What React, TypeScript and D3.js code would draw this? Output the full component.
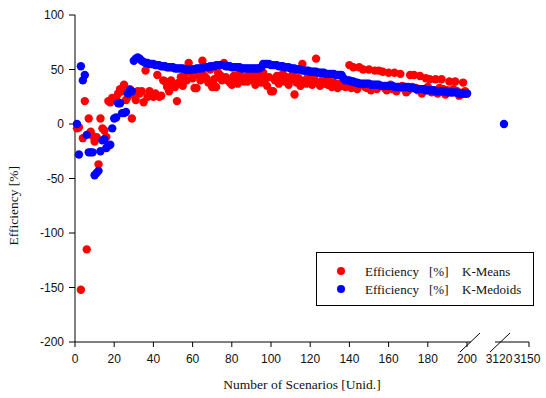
import React from 'react';
import * as d3 from 'd3';

// scenario counts 1..200 plus the lone 3120 run
const scenarios: number[] = d3.range(1, 201);

const kMeans: number[] = [
  -4, -3, -152, -13, 21, -115, 5, -7, -11, -16,
  -12, -37, 5, -4, -6, -12, 21, 20, 24, 22,
  24, 28, 32, 30, 36, 22, 25, 32, 5, 27,
  22, 30, 28, 30, 20, 49, 25, 30, 27, 25,
  28, 45, 25, 26, 40, 39, 34, 30, 40, 37,
  34, 21, 38, 43, 35, 45, 40, 56, 48, 42,
  33, 33, 45, 40, 58, 44, 42, 38, 50, 34,
  41, 34, 47, 45, 40, 56, 43, 40, 38, 36,
  44, 41, 37, 46, 42, 39, 43, 39, 48, 44,
  40, 36, 45, 42, 38, 47, 41, 35, 43, 30,
  30, 40, 44, 37, 42, 46, 39, 43, 36, 41,
  45, 27, 38, 42, 35, 55, 40, 37, 44, 39,
  36, 41, 60, 38, 35, 40, 37, 42, 36, 39,
  34, 38, 36, 33, 37, 35, 39, 34, 36, 54,
  33, 52, 35, 32, 52, 36, 50, 34, 33, 50,
  31, 34, 49, 32, 49, 35, 48, 33, 31, 47,
  36, 32, 47, 30, 33, 46, 35, 32, 29, 31,
  45, 34, 45, 33, 31, 44, 28, 32, 42, 34,
  41, 29, 31, 41, 28, 33, 41, 32, 27, 31,
  39, 29, 32, 39, 30, 26, 27, 38, 30, 28,
];

const kMedoids: number[] = [
  0, -28, 53, 40, 45, -10, -26, -26, -26, -47,
  -45, -43, -25, -15, -14, -22, -20, -19, -4, 5,
  6, 19, 19, 10, 10, 11, 28, 31, 30, 58,
  60, 61, 60, 58, 57, 56, 56, 55, 55, 55,
  54, 54, 54, 53, 53, 53, 52, 52, 52, 52,
  51, 51, 51, 51, 51, 50, 50, 50, 50, 50,
  50, 51, 51, 51, 51, 52, 52, 52, 53, 53,
  53, 54, 54, 54, 54, 54, 53, 53, 53, 52,
  52, 52, 52, 52, 51, 51, 51, 51, 51, 51,
  51, 51, 51, 51, 52, 55, 55, 55, 55, 54,
  54, 54, 54, 53, 53, 53, 52, 52, 52, 51,
  51, 51, 50, 50, 50, 49, 49, 49, 49, 48,
  48, 48, 48, 47, 47, 47, 47, 46, 46, 46,
  46, 46, 45, 45, 45, 45, 42, 40, 40, 40,
  39, 39, 38, 38, 37, 37, 37, 37, 37, 37,
  36, 36, 36, 36, 36, 35, 35, 35, 35, 35,
  35, 35, 34, 34, 34, 34, 34, 34, 34, 34,
  33, 33, 33, 32, 32, 32, 32, 32, 31, 31,
  31, 31, 31, 30, 30, 30, 30, 30, 30, 29,
  29, 29, 29, 29, 29, 28, 28, 28, 28, 28,
];

const farScenarios = [3120];
const farKMedoids = [0];

const xTicks = [0, 20, 40, 60, 80, 100, 120, 140, 160, 180, 200];
const farTicks = [3120, 3150];
const yTicks = [100, 50, 0, -50, -100, -150, -200];

const W = 546;
const H = 398;
const sans = '"Liberation Sans", Arial, Helvetica, sans-serif';
const serif = '"Liberation Serif", "Times New Roman", serif';

export default function App() {
  const x = d3.scaleLinear().domain([0, 200]).range([75, 467]);
  const xFar = d3.scaleLinear().domain([3120, 3150]).range([504, 529]);
  const y = d3.scaleLinear().domain([-200, 100]).range([342, 15]);
  const y0 = y(-200);
  const r = 4.2;

  return (
    <div style={{ position: 'fixed', left: 0, top: 0 }}>
      <svg width={W} height={H} style={{ display: 'block', background: '#fff' }}>
        {/* y axis */}
        <line x1={75} x2={75} y1={y(100)} y2={y0} stroke="#000" />
        {yTicks.map(t => (
          <g key={t}>
            <line x1={69} x2={75} y1={y(t)} y2={y(t)} stroke="#000" />
            <text x={64} y={y(t)} dy="0.35em" textAnchor="end" fontFamily={sans} fontSize={12} fill="#111">{t}</text>
          </g>
        ))}

        {/* broken x axis */}
        <line x1={75} x2={471} y1={y0} y2={y0} stroke="#000" />
        <line x1={495} x2={xFar(3150)} y1={y0} y2={y0} stroke="#000" />
        <line x1={460} x2={480} y1={y0 + 10} y2={y0 - 9} stroke="#000" />
        <line x1={490} x2={510} y1={y0 + 10} y2={y0 - 9} stroke="#000" />
        {xTicks.map(t => (
          <g key={t}>
            <line x1={x(t)} x2={x(t)} y1={y0} y2={y0 + 5} stroke="#000" />
            <text x={x(t)} y={y0 + 21} textAnchor="middle" fontFamily={sans} fontSize={12} fill="#111">{t}</text>
          </g>
        ))}
        {farTicks.map(t => (
          <g key={t}>
            {t === 3150 && <line x1={xFar(t)} x2={xFar(t)} y1={y0} y2={y0 + 5} stroke="#000" />}
            <text x={xFar(t) - (t === 3120 ? 5 : 2)} y={y0 + 21} textAnchor="middle" fontFamily={sans} fontSize={12} fill="#111">{t}</text>
          </g>
        ))}

        {/* axis titles */}
        <text x={302} y={389} textAnchor="middle" fontFamily={serif} fontSize={13.5} fill="#111">Number of Scenarios [Unid.]</text>
        <text transform={`translate(18,${y(-75)}) rotate(-90)`} textAnchor="middle" fontFamily={serif} fontSize={13.5} fill="#111">Efficiency [%]</text>

        {/* points */}
        <g fill="#ff0000">
          {kMeans.map((v, i) => <circle key={i} cx={x(scenarios[i])} cy={y(v)} r={r} />)}
        </g>
        <g fill="#0000ff">
          {kMedoids.map((v, i) => <circle key={i} cx={x(scenarios[i])} cy={y(v)} r={r} />)}
          {farKMedoids.map((v, i) => <circle key={'f' + i} cx={xFar(farScenarios[i])} cy={y(v)} r={r} />)}
        </g>

        {/* legend */}
        <rect x={316.5} y={252.5} width={217} height={53} fill="#fff" stroke="#000" />
        {[
          { label: 'K-Means', color: '#ff0000' },
          { label: 'K-Medoids', color: '#0000ff' },
        ].map((d, i) => (
          <g key={d.label} transform={`translate(0,${271 + i * 18})`}>
            <circle cx={341} cy={0} r={4} fill={d.color} />
            <g fontFamily={serif} fontSize={13} fill="#111">
              <text x={365} dy="0.35em">Efficiency</text>
              <text x={429} dy="0.35em">[%]</text>
              <text x={462} dy="0.35em">{d.label}</text>
            </g>
          </g>
        ))}
      </svg>
    </div>
  );
}
